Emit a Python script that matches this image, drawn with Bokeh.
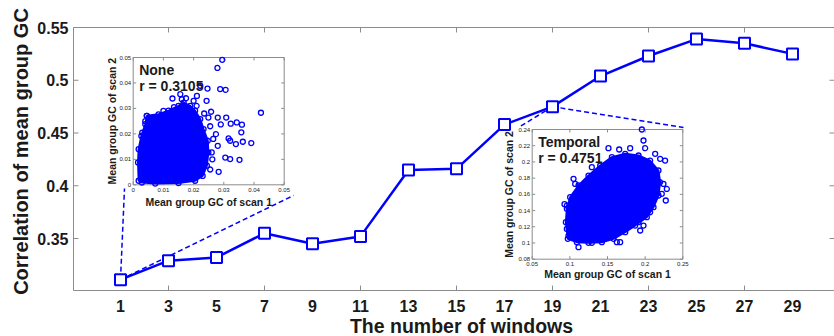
import numpy as np
from bokeh.plotting import figure
from bokeh.models import Range1d
from bokeh.embed import file_html
from bokeh.resources import INLINE
from bokeh.core.properties import value

# ---------------- data ----------------
windows = [1, 3, 5, 7, 9, 11, 13, 15, 17, 19, 21, 23, 25, 27, 29]
window_labels = ["1", "3", "5", "7", "9", "11", "13", "15", "17", "19", "21", "23", "25",
                 "27", "29"]
corr = [0.311, 0.329, 0.332, 0.355, 0.345, 0.352, 0.415, 0.416, 0.458, 0.475,
        0.504, 0.523, 0.539, 0.535, 0.525]
y_ticks = [0.35, 0.4, 0.45, 0.5, 0.55]
y_tick_labels = ["0.35", "0.4", "0.45", "0.5", "0.55"]
x_tick_marks = [3, 7, 11, 15, 19, 23, 27]
x_title = "The number of windows"
y_title = "Correlation of mean group GC"

# inset "None" (window = 1)
none_x_ticks = [0, 0.01, 0.02, 0.03, 0.04, 0.05]
none_x_labels = ["0", "0.01", "0.02", "0.03", "0.04", "0.05"]
none_y_ticks = [0, 0.01, 0.02, 0.03, 0.04, 0.05]
none_y_labels = ["0", "0.01", "0.02", "0.03", "0.04", "0.05"]
none_core_x = [0.0018, 0.0016, 0.0018, 0.0027, 0.0040, 0.0045, 0.0084, 0.0117, 0.0150,
               0.0167, 0.0189, 0.0205, 0.0222, 0.0233, 0.0247, 0.0249, 0.0244, 0.0230,
               0.0205, 0.0150, 0.0073, 0.0029]
none_core_y = [0.0016, 0.0088, 0.0140, 0.0192, 0.0238, 0.0271, 0.0277, 0.0291, 0.0310,
               0.0323, 0.0310, 0.0291, 0.0258, 0.0219, 0.0173, 0.0127, 0.0075, 0.0035,
               0.0016, 0.0007, 0.0005, 0.0009]
none_x = [0.0295, 0.0279, 0.0246, 0.0288, 0.0306, 0.0130, 0.0243, 0.0423, 0.0258, 0.0249,
          0.0280, 0.0308, 0.0343, 0.0360, 0.0323, 0.0290, 0.0358, 0.0316, 0.0321, 0.0363,
          0.0391, 0.0340, 0.0305, 0.0321, 0.0352, 0.0283, 0.0260, 0.0280, 0.0274, 0.0156,
          0.0161, 0.0222, 0.0211, 0.0045, 0.0200, 0.0175, 0.0210, 0.0235, 0.0255, 0.0265,
          0.0262, 0.0255, 0.0030, 0.0040, 0.0100, 0.0135]
none_y = [0.0491, 0.0459, 0.0378, 0.0376, 0.0373, 0.0339, 0.0330, 0.0283, 0.0287, 0.0264,
          0.0264, 0.0264, 0.0245, 0.0236, 0.0240, 0.0237, 0.0206, 0.0182, 0.0173, 0.0169,
          0.0164, 0.0160, 0.0107, 0.0101, 0.0098, 0.0051, 0.0127, 0.0153, 0.0199, 0.0356,
          0.0336, 0.0389, 0.0349, 0.0271, 0.0330, 0.0340, 0.0310, 0.0280, 0.0230, 0.0180,
          0.0100, 0.0060, 0.0205, 0.0250, 0.0290, 0.0305]

# inset "Temporal" (window = 19)
temp_x_ticks = [0.05, 0.1, 0.15, 0.2, 0.25]
temp_x_labels = ["0.05", "0.1", "0.15", "0.2", "0.25"]
temp_y_ticks = [0.08, 0.1, 0.12, 0.14, 0.16, 0.18, 0.2, 0.22, 0.24]
temp_y_labels = ["0.08", "0.1", "0.12", "0.14", "0.16", "0.18", "0.2", "0.22", "0.24"]
temp_core_x = [0.0973, 0.0947, 0.0960, 0.1004, 0.1115, 0.1248, 0.1403, 0.1558, 0.1735,
               0.1912, 0.2066, 0.2177, 0.2199, 0.2177, 0.2111, 0.2022, 0.1867, 0.1735,
               0.1580, 0.1425, 0.1248, 0.1093]
temp_core_y = [0.1051, 0.1257, 0.1421, 0.1565, 0.1709, 0.1832, 0.1956, 0.2059, 0.2100,
               0.2079, 0.2017, 0.1894, 0.1750, 0.1586, 0.1442, 0.1318, 0.1215, 0.1133,
               0.1051, 0.1010, 0.1002, 0.1010]
temp_x = [0.1956, 0.1978, 0.1513, 0.1655, 0.1801, 0.2000, 0.2133, 0.2265, 0.2199, 0.1292,
          0.1049, 0.1071, 0.0929, 0.0960, 0.2221, 0.2274, 0.2243, 0.2288, 0.1115, 0.1292,
          0.1668, 0.1624, 0.1978, 0.1934, 0.0982, 0.0960, 0.1912, 0.2066]
temp_y = [0.2400, 0.2264, 0.2170, 0.2153, 0.2170, 0.2170, 0.2100, 0.2017, 0.2038, 0.1935,
          0.1791, 0.1729, 0.1479, 0.1462, 0.1606, 0.1524, 0.1729, 0.1667, 0.0948, 0.1002,
          0.1010, 0.1010, 0.1215, 0.1154, 0.1092, 0.1174, 0.1257, 0.1379]

# ---------------- layout (screen px) ----------------
W, H = 834, 336
AL, AT, AR, AB = 73, 27, 834, 290      # axes box of the main plot
PX_PER_X = 24.0                        # px per window
PX_PER_Y = 1055.0                      # px per correlation unit
X_AT_120 = 1                           # window 1 sits at px 120
Y_AT_AT = 0.55                         # top of axes box
# canvas-wide ranges (the plotting frame covers the whole canvas)
X0 = X_AT_120 - 120 / PX_PER_X
X1 = X0 + W / PX_PER_X
Y1 = Y_AT_AT + AT / PX_PER_Y
Y0 = Y1 - H / PX_PER_Y
BLUE = "#0000FF"
GRAY = "#8c8c8c"
TXT = "#1a1a1a"
FONT = value("Liberation Sans")
DX = 1 / PX_PER_X
DY = 1 / PX_PER_Y


def px2x(px):
    return X0 + px * DX


def px2y(py):
    return Y1 - py * DY


p = figure(width=W, height=H, x_range=Range1d(X0, X1), y_range=Range1d(Y0, Y1),
           output_backend="svg", toolbar_location=None, x_axis_type=None,
           y_axis_type=None, min_border=0)
p.outline_line_color = None
p.xgrid.visible = False
p.ygrid.visible = False
p.background_fill_color = "white"

xl, xr_ = px2x(AL), px2x(AR)
yt_, yb = px2y(AT), px2y(AB)

# axes box (left, bottom, top lines; right edge is off-canvas in the original)
p.segment(x0=[xl, xl, xl], y0=[yb, yb, yt_], x1=[xl, xr_, xr_], y1=[yt_, yb, yt_],
          line_color=GRAY, line_width=1)
# inward ticks
n = len(x_tick_marks)
p.segment(x0=x_tick_marks, y0=[yb] * n, x1=x_tick_marks, y1=[yb + 5 * DY] * n,
          line_color=GRAY, line_width=1)
p.segment(x0=x_tick_marks, y0=[yt_] * n, x1=x_tick_marks, y1=[yt_ - 5 * DY] * n,
          line_color=GRAY, line_width=1)
m = len(y_ticks)
p.segment(x0=[xl] * m, y0=y_ticks, x1=[xl + 5 * DX] * m, y1=y_ticks,
          line_color=GRAY, line_width=1)
p.segment(x0=[xr_] * m, y0=y_ticks, x1=[xr_ - 5 * DX] * m, y1=y_ticks,
          line_color=GRAY, line_width=1)

# tick labels and titles
p.text(x=windows, y=[px2y(305.5)] * len(windows), text=window_labels, text_font=FONT,
       text_font_style="bold", text_font_size="16px", text_align="center",
       text_baseline="middle", text_color=TXT)
p.text(x=[px2x(AL - 5)] * m, y=y_ticks, text=y_tick_labels, text_font=FONT,
       text_font_style="bold", text_font_size="16px", text_align="right",
       text_baseline="middle", text_color=TXT)
p.text(x=[px2x(461)], y=[px2y(325.5)], text=[x_title], text_font=FONT,
       text_font_style="bold", text_font_size="19.5px", text_align="center",
       text_baseline="middle", text_color=TXT)
p.text(x=[px2x(20)], y=[px2y(151)], text=[y_title], text_font=FONT,
       text_font_style="bold", text_font_size="20px", text_align="center",
       text_baseline="middle", angle=np.pi / 2, text_color=TXT)

# ---------------- dashed connectors ----------------
i1 = windows.index(1)
i19 = windows.index(19)
dash = dict(line_color=BLUE, line_width=1.5, line_dash="5 3")
p.line([windows[i1], px2x(124)], [corr[i1], px2y(188)], **dash)
p.line([windows[i1], px2x(293)], [corr[i1], px2y(195)], **dash)
p.line([windows[i19], px2x(518)], [corr[i19], px2y(127)], **dash)
p.line([windows[i19], px2x(683)], [corr[i19], px2y(127)], **dash)

# ---------------- main series ----------------
p.line(windows, corr, line_color=BLUE, line_width=2.5)
p.scatter(windows, corr, marker="square", size=11, fill_color="white",
          line_color=BLUE, line_width=2)


# ---------------- insets ----------------
def draw_inset(name, box, dbox, xt, xlab, yt, ylab, core_x, core_y, sx_pts, sy_pts,
               title, rtext, xlab_off, ylab_off):
    px0, px1, py_top, py_bot = box
    dx0, dx1, dy0, dy1 = dbox
    sx = (dx1 - dx0) / (px1 - px0)
    sy = (dy1 - dy0) / (py_bot - py_top)
    p.extra_x_ranges[name] = Range1d(dx0 - px0 * sx, dx1 + (W - px1) * sx)
    p.extra_y_ranges[name] = Range1d(dy0 - (H - py_bot) * sy, dy1 + py_top * sy)
    kw = dict(x_range_name=name, y_range_name=name)

    p.quad(left=[dx0], right=[dx1], bottom=[dy0], top=[dy1], fill_color="white",
           line_color=GRAY, line_width=1, **kw)
    tl = 3
    p.segment(x0=xt, y0=[dy0] * len(xt), x1=xt, y1=[dy0 + tl * sy] * len(xt),
              line_color=GRAY, line_width=1, **kw)
    p.segment(x0=xt, y0=[dy1] * len(xt), x1=xt, y1=[dy1 - tl * sy] * len(xt),
              line_color=GRAY, line_width=1, **kw)
    p.segment(x0=[dx0] * len(yt), y0=yt, x1=[dx0 + tl * sx] * len(yt), y1=yt,
              line_color=GRAY, line_width=1, **kw)
    p.segment(x0=[dx1] * len(yt), y0=yt, x1=[dx1 - tl * sx] * len(yt), y1=yt,
              line_color=GRAY, line_width=1, **kw)
    p.patch(core_x, core_y, fill_color=BLUE, line_color=BLUE, line_width=2, **kw)
    p.scatter(core_x + sx_pts, core_y + sy_pts, marker="circle", size=5,
              fill_color=None, line_color=BLUE, line_width=1.3, **kw)
    p.text(x=xt, y=[dy0 - 3 * sy] * len(xt), text=xlab, text_font=FONT,
           text_font_size="6px", text_align="center", text_baseline="top",
           text_color=TXT, **kw)
    p.text(x=[dx0 - 2 * sx] * len(yt), y=yt, text=ylab, text_font=FONT,
           text_font_size="6px", text_align="right", text_baseline="middle",
           text_color=TXT, **kw)
    p.text(x=[(dx0 + dx1) / 2], y=[dy0 - xlab_off * sy], text=["Mean group GC of scan 1"],
           text_font=FONT, text_font_style="bold", text_font_size="10.5px",
           text_align="center", text_baseline="middle", text_color=TXT, **kw)
    p.text(x=[dx0 - ylab_off * sx], y=[(dy0 + dy1) / 2], text=["Mean group GC of scan 2"],
           text_font=FONT, text_font_style="bold", text_font_size="10.5px",
           text_align="center", text_baseline="middle", angle=np.pi / 2,
           text_color=TXT, **kw)
    p.text(x=[dx0 + 6 * sx], y=[dy1 - 4 * sy], text=[title], text_font=FONT,
           text_font_style="bold", text_font_size="14px", text_align="left",
           text_baseline="top", text_color=TXT, **kw)
    p.text(x=[dx0 + 6 * sx], y=[dy1 - 20 * sy], text=[rtext], text_font=FONT,
           text_font_style="bold", text_font_size="14px", text_align="left",
           text_baseline="top", text_color=TXT, **kw)


draw_inset("none", (132.7, 283.7, 57.0, 184.3), (0.0, 0.05, 0.0, 0.05),
           none_x_ticks, none_x_labels, none_y_ticks, none_y_labels,
           none_core_x, none_core_y, none_x, none_y, "None", "r = 0.3105", 17, 21)
draw_inset("temporal", (531.7, 682.3, 129.0, 258.7), (0.05, 0.25, 0.08, 0.24),
           temp_x_ticks, temp_x_labels, temp_y_ticks, temp_y_labels,
           temp_core_x, temp_core_y, temp_x, temp_y, "Temporal", "r = 0.4751", 15, 23)

open("out.html", "w").write(file_html(p, INLINE))
